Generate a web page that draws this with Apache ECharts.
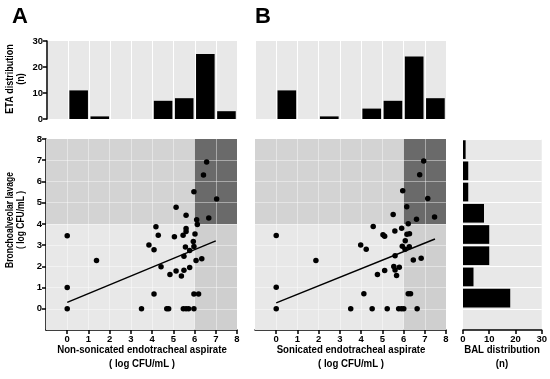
<!DOCTYPE html>
<html><head><meta charset="utf-8">
<script src="https://cdn.jsdelivr.net/npm/echarts@6/dist/echarts.min.js"></script>
<style>html,body{margin:0;padding:0;background:#fff}#c{width:550px;height:379px}</style>
</head><body><div id="c"></div>
<script>
// ---- data ----
const binLabels = ['-1–0','0–1','1–2','2–3','3–4','4–5','5–6','6–7','7–8'];
const etaA = [0,11,1,0,0,7,8,25,3];
const etaB = [0,11,0,1,0,4,7,24,8];
const bal  = [0,18,4,10,10,8,2,2,1];
const ptsA = [[6.57,6.92],[6.42,6.30],[5.97,5.52],[7.04,5.17],[5.13,4.78],[5.60,4.41],[6.67,4.28],[6.10,4.19],[6.13,3.97],
  [0,3.44],[4.18,3.86],[4.29,3.47],[5.60,3.78],[5.60,3.64],[5.46,3.47],[5.05,3.39],[6.02,3.52],[5.94,3.17],[3.85,3.0],
  [4.09,2.78],[5.57,2.91],[5.77,2.75],[5.97,2.94],[5.50,2.47],[6.07,2.27],[6.34,2.36],[1.38,2.27],[4.42,1.98],[5.77,1.94],
  [5.50,1.81],[5.13,1.78],[4.84,1.61],[5.38,1.55],[0,1.0],[4.09,0.70],[5.97,0.70],[6.19,0.70],[0,0],[3.5,0],[4.69,0],
  [4.78,0],[5.47,0],[5.60,0],[5.72,0],[5.97,0]];
const ptsB = [[6.95,6.96],[6.76,6.32],[5.96,5.56],[7.14,5.20],[6.15,4.81],[5.51,4.44],[6.61,4.22],[7.46,4.32],[6.22,4.01],
  [0,3.45],[4.57,3.88],[5.59,3.66],[5.91,3.80],[6.16,3.51],[6.28,3.54],[5.03,3.49],[5.11,3.42],[6.08,3.20],[3.98,3.01],
  [4.24,2.81],[5.94,2.95],[6.07,2.80],[6.27,2.92],[5.60,2.50],[6.46,2.30],[6.83,2.38],[1.87,2.28],[5.54,1.99],[5.80,1.96],
  [5.60,1.83],[5.11,1.80],[4.77,1.61],[5.67,1.57],[0,1.01],[4.13,0.71],[6.22,0.71],[6.33,0.71],[0,0],[3.51,0],[4.52,0],
  [5.23,0],[5.77,0],[5.90,0],[6.01,0],[6.64,0]];
const fitA = [[0,0.30],[7.0,3.20]];
const fitB = [[0,0.28],[7.48,3.29]];
const logTicks = [0,1,2,3,4,5,6,7,8];
const gridVals = [0,1,2,3,4,5,6,7];
const countTicks = [0,10,20,30];
const cutX = 6, cutY = 4;
const axMin = -1, axMax = 8;

// ---- styles ----
const FF = '"Liberation Sans", Arial, sans-serif';
const lbl = {color:'#000', fontWeight:'bold', fontSize:9.5, fontFamily:FF};
const blackLine = {color:'#000', width:1.5};

function logAxis(gi, showLine, showLabels){
  return {type:'value', gridIndex:gi, min:axMin, max:axMax, interval:1,
    axisLine:{show:showLine, onZero:false, lineStyle:blackLine},
    axisTick:{show:showLine, customValues:logTicks, length:4, lineStyle:blackLine},
    axisLabel:{show:showLabels, customValues:logTicks, margin:4, ...lbl},
    splitLine:{show:false}};
}
function regions(){
  return [
    [{xAxis:axMin,yAxis:axMin,itemStyle:{color:'#e8e8e8'}},{xAxis:cutX,yAxis:cutY}],
    [{xAxis:axMin,yAxis:cutY,itemStyle:{color:'#d3d3d3'}},{xAxis:cutX,yAxis:axMax}],
    [{xAxis:cutX,yAxis:axMin,itemStyle:{color:'#cfcfcf'}},{xAxis:axMax,yAxis:cutY}],
    [{xAxis:cutX,yAxis:cutY,itemStyle:{color:'#6a6a6a'}},{xAxis:axMax,yAxis:axMax}]
  ];
}
function bgSeries(xi){
  return {type:'scatter', xAxisIndex:xi, yAxisIndex:xi, data:[], silent:true,
    markArea:{silent:true, itemStyle:{opacity:1}, data:regions()},
    markLine:{silent:true, symbol:'none', animation:false, label:{show:false},
      lineStyle:{color:'rgba(255,255,255,0.42)', width:1, type:'solid'},
      emphasis:{disabled:true},
      data:[...gridVals.map(v=>({xAxis:v})), ...gridVals.map(v=>({yAxis:v}))]}};
}
const catAxis = (gi) => ({type:'category', gridIndex:gi, data:binLabels, boundaryGap:true,
  axisLine:{show:false}, axisTick:{show:false}, axisLabel:{show:false},
  splitLine:{show:true, interval:0, lineStyle:{color:'#ffffff', width:1}}});
const countAxis = (gi, show, pos) => ({type:'value', gridIndex:gi, min:0, max:30, interval:10, position:pos,
  axisLine:{show:show, onZero:false, lineStyle:blackLine},
  axisTick:{show:show, length:4, lineStyle:blackLine},
  axisLabel:{show:show, margin:4, ...lbl}, splitLine:{show:false}});

const chart = echarts.init(document.getElementById('c'), null, {renderer:'canvas'});
const histGrid = {show:true, backgroundColor:'#e8e8e8', borderWidth:0};
const txt = (x, y, text, size, sx, lh, rot) => ({type:'text', x, y, rotation:rot||0, scaleX:sx, scaleY:1,
  style:{text, font:'bold '+size+'px '+FF, lineHeight:lh, fill:'#000', align:'center', verticalAlign:'middle'}});
chart.setOption({
  animation:false,
  grid:[
    {left:47, top:41, width:190, height:78, ...histGrid},
    {left:255, top:41, width:191, height:78, ...histGrid},
    {left:46, top:139, width:191, height:191},
    {left:255, top:139, width:191, height:191},
    {left:463, top:139, width:79, height:191, ...histGrid}
  ],
  xAxis:[
    catAxis(0), catAxis(1),
    logAxis(2, true, true), logAxis(3, true, true),
    countAxis(4, true, 'bottom')
  ],
  yAxis:[
    countAxis(0, true, 'left'), countAxis(1, false, 'left'),
    logAxis(2, true, true), logAxis(3, false, false),
    catAxis(4)
  ],
  series:[
    {type:'bar', xAxisIndex:0, yAxisIndex:0, data:etaA, barWidth:'88%', itemStyle:{color:'#000'}},
    {type:'bar', xAxisIndex:1, yAxisIndex:1, data:etaB, barWidth:'88%', itemStyle:{color:'#000'}},
    bgSeries(2), bgSeries(3),
    {type:'scatter', xAxisIndex:2, yAxisIndex:2, data:ptsA, symbolSize:5.5, z:10, itemStyle:{color:'#000', opacity:1}},
    {type:'scatter', xAxisIndex:3, yAxisIndex:3, data:ptsB, symbolSize:5.5, z:10, itemStyle:{color:'#000', opacity:1}},
    {type:'line', xAxisIndex:2, yAxisIndex:2, data:fitA, showSymbol:false, z:10, lineStyle:{color:'#000', width:1.5}},
    {type:'line', xAxisIndex:3, yAxisIndex:3, data:fitB, showSymbol:false, z:10, lineStyle:{color:'#000', width:1.5}},
    {type:'bar', xAxisIndex:4, yAxisIndex:4, data:bal, barWidth:'88%', itemStyle:{color:'#000'}}
  ],
  graphic:[
    {type:'text', x:20, y:17, style:{text:'A', font:'bold 22px '+FF, fill:'#000', align:'center', verticalAlign:'middle'}},
    {type:'text', x:263, y:17, style:{text:'B', font:'bold 22px '+FF, fill:'#000', align:'center', verticalAlign:'middle'}},
    txt(16, 79, 'ETA distribution\n(n)', 10, 0.9, 11, Math.PI/2),
    txt(15.5, 220, 'Bronchoalveolar lavage\n( log CFU/mL )', 10, 0.85, 11, Math.PI/2),
    txt(142, 357, 'Non-sonicated endotracheal aspirate\n( log CFU/mL )', 10.5, 0.92, 14),
    txt(351, 357, 'Sonicated endotracheal aspirate\n( log CFU/mL )', 10.5, 0.92, 14),
    txt(502, 357, 'BAL distribution\n(n)', 10.5, 0.92, 14)
  ]
});
</script></body></html>
